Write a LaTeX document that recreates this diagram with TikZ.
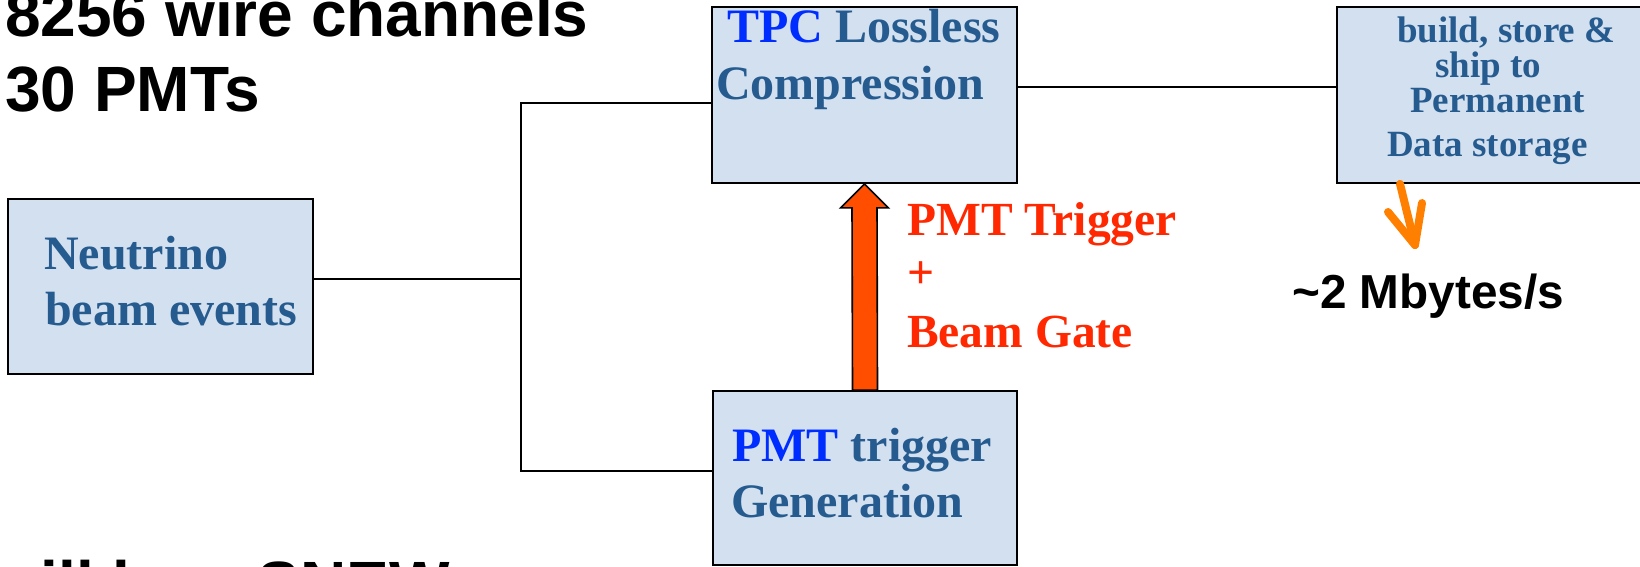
\documentclass[tikz,border=0pt]{standalone}
\usepackage{fontspec}
\setmainfont{Liberation Serif}
\newfontfamily\sansfam{Liberation Sans}
\usetikzlibrary{calc}

\definecolor{boxfill}{RGB}{211,224,239}
\definecolor{boxtext}{RGB}{37,91,143}
\definecolor{tagblue}{RGB}{0,45,255}
\definecolor{trigred}{RGB}{255,40,0}
\definecolor{arrowfill}{RGB}{255,78,0}
\definecolor{rateorange}{RGB}{255,127,0}

\begin{document}
\begin{tikzpicture}[x=1pt,y=-1pt,
  block/.style={draw=black, line width=1.8pt, fill=boxfill, inner sep=0pt},
  wire/.style={draw=black, line width=1.5pt},
  boxlabel/.style={anchor=base west, inner sep=0pt, text=boxtext,
    font=\fontsize{48}{57}\selectfont\bfseries},
  smalllabel/.style={anchor=base west, inner sep=0pt, text=boxtext,
    font=\fontsize{37}{44}\selectfont\bfseries},
  redlabel/.style={anchor=base west, inner sep=0pt, text=trigred,
    font=\fontsize{47.5}{56}\selectfont\bfseries},
  headline/.style={anchor=base west, inner sep=0pt, text=black,
    font=\sansfam\fontsize{64}{76}\selectfont\bfseries},
  ratelabel/.style={anchor=base west, inner sep=0pt, text=black,
    font=\sansfam\fontsize{47.7}{56}\selectfont\bfseries}
]
\useasboundingbox (0,0) rectangle (1640,567);
\clip (0,0) rectangle (1640,567);

% blocks
\node[block, minimum width=305pt, minimum height=175pt] (nu)   at (160.5,286.5) {};
\node[block, minimum width=305pt, minimum height=176pt] (tpc)  at (864.5,95) {};
\node[block, minimum width=304pt, minimum height=174pt] (pmt)  at (865,478) {};
\node[block, minimum width=328pt, minimum height=176pt] (data) at (1501,95) {};

% fan-out of the beam events
\coordinate (split) at (521,279);
\coordinate (upper) at (521,103);
\coordinate (lower) at (521,471);
\draw[wire] (split -| nu.east) -- (split);
\draw[wire] (tpc.west |- upper) -- (upper) -- (lower) -- (pmt.west |- lower);

% compressed data to storage
\coordinate (outlink) at (1100,87);
\draw[wire] (tpc.east |- outlink) -- (data.west |- outlink);

% trigger arrow from PMT block up to TPC block
\draw[line width=1.6pt, fill=arrowfill, line join=miter]
  ($(pmt.north)+(-12.5,0)$) -- ($(tpc.south)+(-12.5,24)$) -- ($(tpc.south)+(-24,24)$)
  -- (tpc.south) -- ($(tpc.south)+(24,24)$) -- ($(tpc.south)+(12.5,24)$)
  -- ($(pmt.north)+(12.5,0)$) -- cycle;

% output rate arrow
\coordinate (ratetip) at (1415,245);
\draw[rateorange, line width=8pt, line cap=round, line join=round]
  (data.south -| 1400,0) -- (ratetip);
\draw[rateorange, line width=8pt, line cap=round, line join=round]
  (1388,212) -- (ratetip) -- (1422,203);

% block texts
\node[boxlabel] (tpcA) at (727,43) {\textcolor{tagblue}{TPC} Lossless};
\node[boxlabel] (tpcB) at (716,100) {Compression};
\node[boxlabel] (nuA) at (44,269) {Neutrino};
\node[boxlabel] (nuB) at (45,325) {beam events};
\node[boxlabel] (pmtA) at (732,461) {\textcolor{tagblue}{PMT} trigger};
\node[boxlabel] (pmtB) at (731,517) {Generation};
\node[smalllabel] (dataA) at (1397,43) {build, store \&};
\node[smalllabel] (dataB) at (1435,78) {ship to};
\node[smalllabel] (dataC) at (1410,113) {Permanent};
\node[smalllabel] (dataD) at (1387,157) {Data storage};

% trigger label
\node[redlabel] (trgA) at (907,235) {PMT Trigger};
\node[redlabel] (trgB) at (907,288) {+};
\node[redlabel] (trgC) at (907,347) {Beam Gate};

% rate and channel counts
\node[ratelabel] (rate) at (1292,308) {\char"007E 2 Mbytes/s};
\node[headline] (chan) at (5,37) {8256 wire channels};
\node[headline] (pmts) at (5,112) {30 PMTs};
\node[headline] (snew) at (-9,606) {will be a SNEW};
\end{tikzpicture}
\end{document}
